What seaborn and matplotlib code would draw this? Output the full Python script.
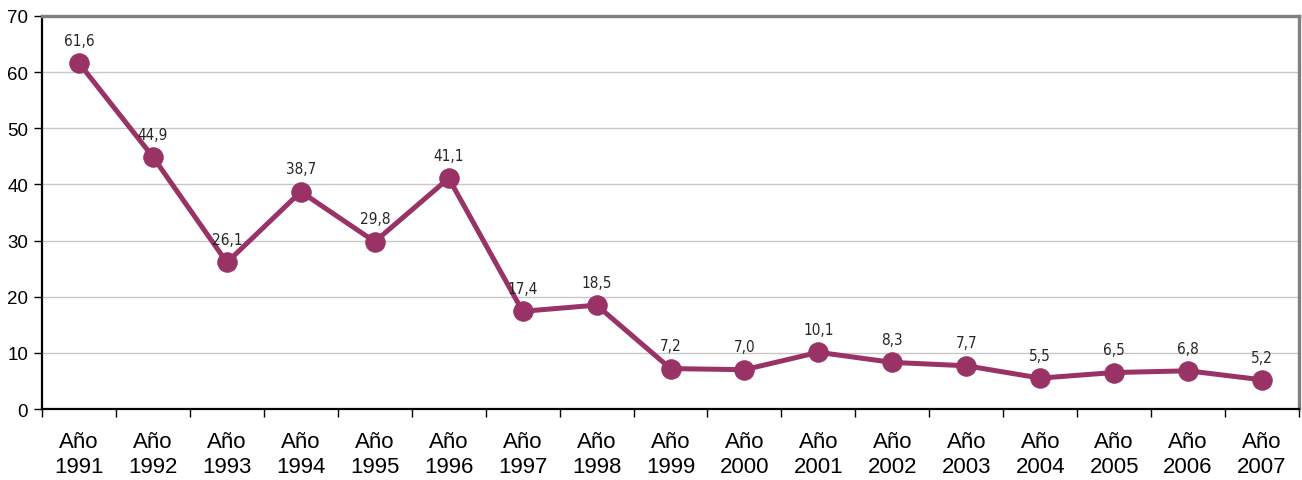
import numpy as np
import pandas as pd
import matplotlib
matplotlib.use("Agg")
import matplotlib.pyplot as plt
import seaborn as sns

# datos
anios = [1991, 1992, 1993, 1994, 1995, 1996, 1997, 1998, 1999,
         2000, 2001, 2002, 2003, 2004, 2005, 2006, 2007]
valores = [61.6, 44.9, 26.1, 38.7, 29.8, 41.1, 17.4, 18.5, 7.2,
           7.0, 10.1, 8.3, 7.7, 5.5, 6.5, 6.8, 5.2]
etiquetas_x = [f"Año\n{a}" for a in anios]
ticks_y = [0, 10, 20, 30, 40, 50, 60, 70]

COLOR = "#993366"

sns.set_theme(style="white")
plt.rcParams["font.family"] = ["Liberation Sans", "DejaVu Sans"]

df = pd.DataFrame({"pos": np.arange(len(anios)), "valor": valores})

fig = plt.figure(figsize=(13.02, 4.81), dpi=100)
ax = fig.add_axes([0.0323, 0.1476, 0.9654, 0.8171])

ax.set_xlim(-0.5, len(anios) - 0.5)
ax.set_ylim(0, 70)
ax.set_yticks(ticks_y)
ax.yaxis.grid(True, color="#c8c8c8", linewidth=1)
ax.set_axisbelow(True)

sns.lineplot(data=df, x="pos", y="valor", ax=ax, color=COLOR, linewidth=3.6,
             marker="o", markersize=14, markeredgecolor=COLOR, zorder=3)

# etiquetas de datos
for x, v in zip(df["pos"], valores):
    ax.annotate(f"{v:.1f}".replace(".", ","), (x, v), xytext=(0, 11),
                textcoords="offset points", ha="center", va="bottom",
                fontsize=11, color="#262626", family="DejaVu Sans",
                fontstretch="condensed")

# eje x: etiquetas centradas, marcas en los bordes de categoria
ax.set_xticks(df["pos"])
ax.set_xticklabels(etiquetas_x, fontsize=16, linespacing=1.25, color="black")
ax.set_xticks(np.arange(-0.5, len(anios)), minor=True)
ax.tick_params(axis="x", which="major", length=0, pad=16)
ax.tick_params(axis="x", which="minor", length=6, width=1, color="black",
               direction="out", bottom=True)
ax.tick_params(axis="y", length=6, width=1, color="black", direction="out",
               left=True, labelsize=13.5, labelcolor="black", pad=4)
ax.set_xlabel("")
ax.set_ylabel("")

for lado in ["left", "bottom"]:
    ax.spines[lado].set_color("black")
    ax.spines[lado].set_linewidth(1.6)
for lado in ["top", "right"]:
    ax.spines[lado].set_color("#808080")
    ax.spines[lado].set_linewidth(2.4)

fig.savefig("out.png", dpi=100)
